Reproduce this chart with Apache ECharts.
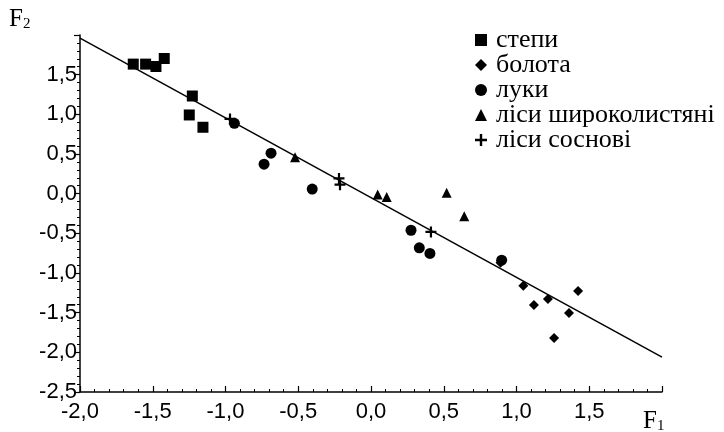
<!DOCTYPE html>
<html>
<head>
<meta charset="utf-8">
<script src="https://cdn.jsdelivr.net/npm/echarts@6/dist/echarts.min.js"></script>
<style>
html,body{margin:0;padding:0;background:#fff;}
#chart{width:724px;height:432px;}
</style>
</head>
<body>
<div id="chart"></div>
<script>
// ---- data ----
const seriesNames = ['степи', 'болота', 'луки', 'ліси широколистяні', 'ліси соснові'];
const stepy = [[-1.634,1.633],[-1.549,1.633],[-1.478,1.603],[-1.421,1.704],[-1.228,1.231],[-1.249,0.992],[-1.155,0.837]];
const bolota = [[0.89,-0.87],[1.047,-1.161],[1.12,-1.403],[1.216,-1.328],[1.258,-1.818],[1.361,-1.504],[1.423,-1.228]];
const luky = [[-0.939,0.887],[-0.735,0.372],[-0.687,0.51],[-0.404,0.058],[0.275,-0.461],[0.332,-0.683],[0.405,-0.754],[0.898,-0.838]];
const lisyShyr = [[-0.522,0.46],[0.046,-0.009],[0.108,-0.043],[0.520,0.013],[0.641,-0.285]];
const lisySosn = [[-0.969,0.942],[-0.22,0.192],[-0.213,0.113],[0.412,-0.482]];
const regressionLine = [[-2,1.96],[2,-2.06]];
const xTickLabels = ['-2,0','-1,5','-1,0','-0,5','0,0','0,5','1,0','1,5'];
const yTickLabels = ['-2,5','-2,0','-1,5','-1,0','-0,5','0,0','0,5','1,0','1,5'];

const plusPath = 'path://M4,0H6V4H10V6H6V10H4V6H0V4H4Z';
const fmt = v => v.toFixed(1).replace('.', ',');

const chart = echarts.init(document.getElementById('chart'), null, {renderer:'canvas'});
const axisFont = {fontFamily:'Liberation Sans', fontSize:22, color:'#000'};
const black = '#000';

function sc(name, data, symbol, size) {
  return {
    name, type:'scatter', data, symbol, symbolSize:size,
    itemStyle:{color:black, opacity:1}, z:3,
    emphasis:{disabled:true}
  };
}
const fRich = {
  a:{fontFamily:'Liberation Serif', fontSize:25, fill:black, color:black},
  b:{fontFamily:'Liberation Serif', fontSize:15, fill:black, color:black, verticalAlign:'bottom', padding:[9,0,0,0]}
};

chart.setOption({
  animation:false,
  backgroundColor:'#fff',
  grid:{left:80, right:62, top:35, bottom:40, containLabel:false},
  xAxis:{
    type:'value', min:-2, max:2, interval:0.5,
    axisLine:{show:true, onZero:false, lineStyle:{color:black, width:1.5}},
    axisTick:{show:true, inside:true, length:6, lineStyle:{color:black, width:1.2}},
    minorTick:{show:true, splitNumber:5, length:3, lineStyle:{color:black, width:1}},
    splitLine:{show:false},
    axisLabel:Object.assign({margin:9, formatter:v => xTickLabels.includes(fmt(v)) ? fmt(v) : ''}, axisFont)
  },
  yAxis:{
    type:'value', min:-2.5, max:2.0, interval:0.5,
    axisLine:{show:true, onZero:false, lineStyle:{color:black, width:1.5}},
    axisTick:{show:true, inside:false, length:6, lineStyle:{color:black, width:1.2}},
    minorTick:{show:true, splitNumber:5, length:3, lineStyle:{color:black, width:1}},
    splitLine:{show:false},
    axisLabel:Object.assign({margin:3, formatter:v => yTickLabels.includes(fmt(v)) ? fmt(v) : ''}, axisFont)
  },
  legend:{
    orient:'vertical', left:470, top:22, itemGap:-1,
    itemWidth:12, itemHeight:12,
    data:seriesNames.map((n,i)=>({name:n, icon:['rect','diamond','circle','triangle',plusPath][i]})),
    textStyle:{fontFamily:'Liberation Serif', fontSize:26, color:black, padding:[0,0,0,4]},
    itemStyle:{color:black}
  },
  graphic:[
    {type:'text', left:9, top:7, style:{text:'{a|F}{b|2}', rich:fRich}},
    {type:'text', left:643, top:409, style:{text:'{a|F}{b|1}', rich:fRich}}
  ],
  series:[
    {type:'line', data:regressionLine, symbol:'none', lineStyle:{color:black, width:1.5}, z:2, silent:true, legendHoverLink:false},
    sc(seriesNames[0], stepy, 'rect', 11),
    sc(seriesNames[1], bolota, 'diamond', 10),
    sc(seriesNames[2], luky, 'circle', 11),
    sc(seriesNames[3], lisyShyr, 'triangle', 10),
    sc(seriesNames[4], lisySosn, plusPath, 11)
  ]
});
</script>
</body>
</html>
